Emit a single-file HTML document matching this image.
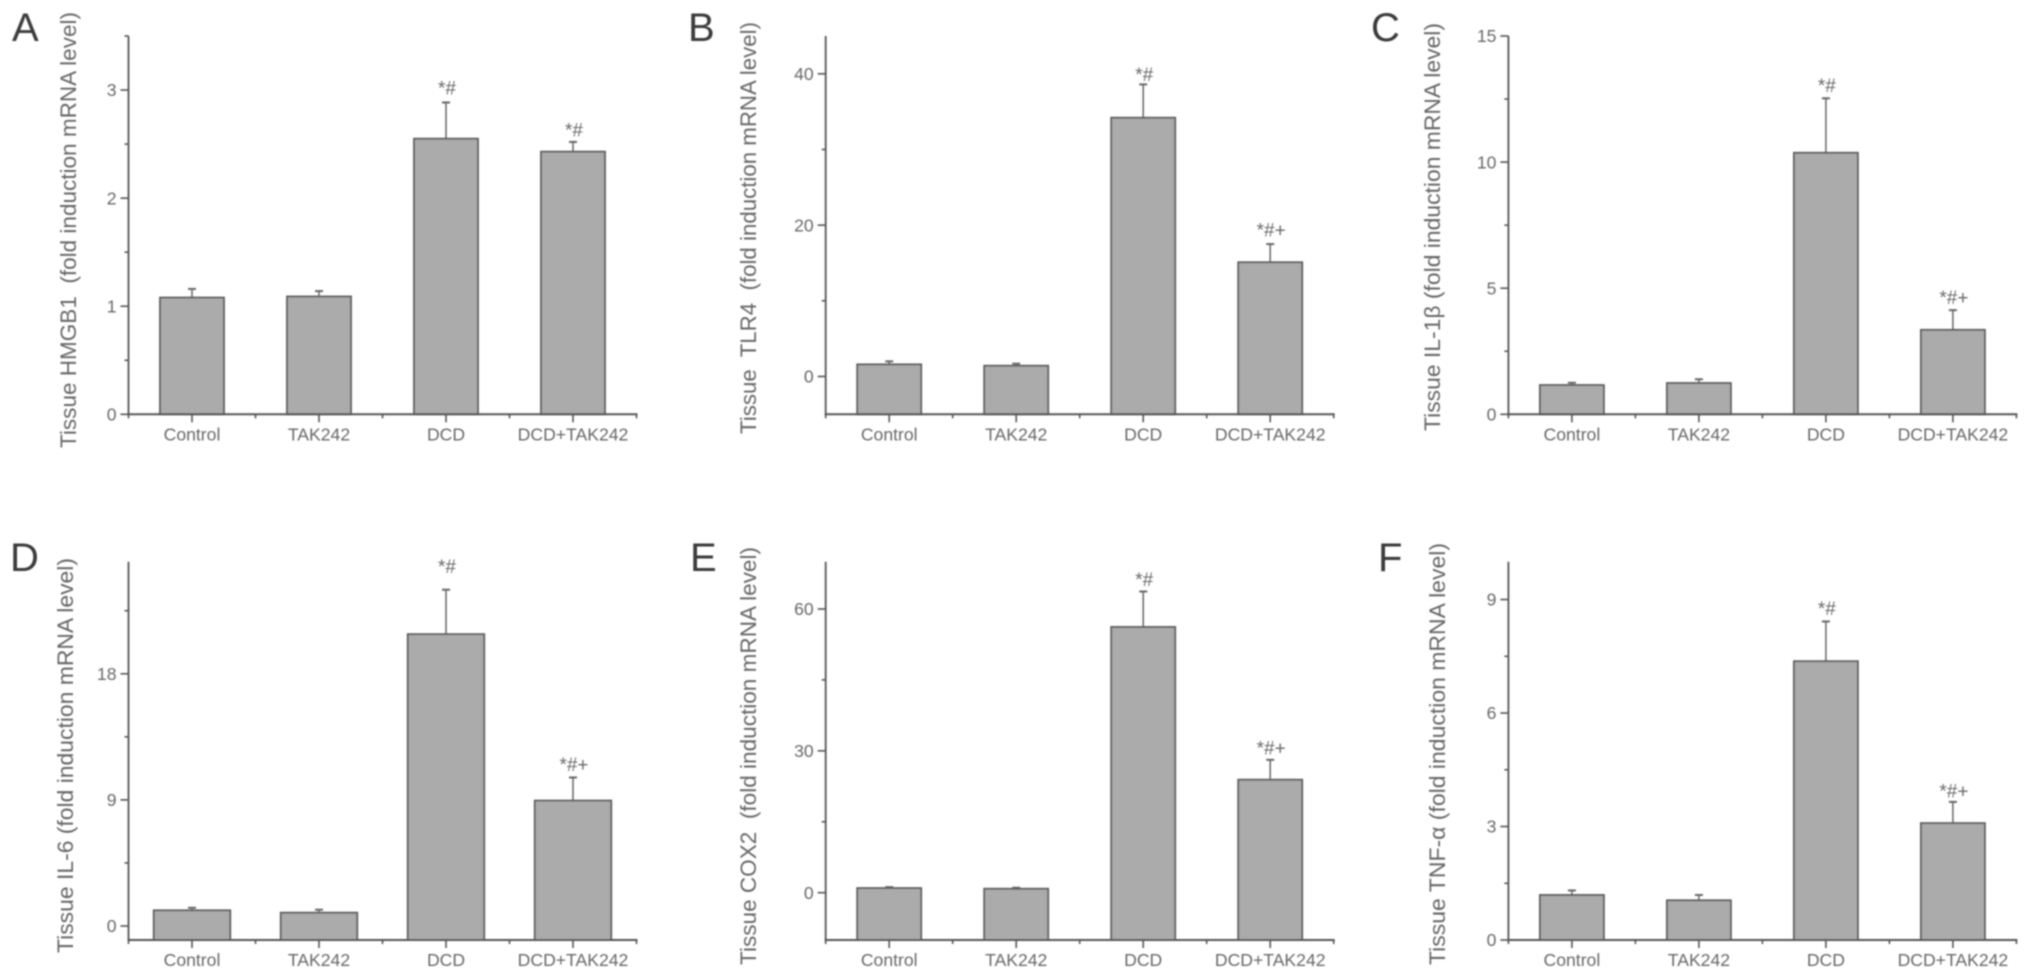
<!DOCTYPE html>
<html lang="en">
<head>
<meta charset="utf-8">
<title>Tissue mRNA induction bar charts</title>
<style>
html,body{margin:0;padding:0;background:#fff;width:2031px;height:980px;overflow:hidden}
svg{display:block}
text{font-family:"Liberation Sans",sans-serif;white-space:pre}
.letter{font-size:40px;fill:#3a3a3a}
.ytitle{font-size:22.5px;fill:#666666}
</style>
</head>
<body>
<svg id="figure" width="2031" height="980" viewBox="0 0 2031 980" xmlns="http://www.w3.org/2000/svg">
<defs>
<filter id="soft" x="0" y="0" width="100%" height="100%" filterUnits="userSpaceOnUse" primitiveUnits="userSpaceOnUse">
<feGaussianBlur stdDeviation="0.8"/>
</filter>
</defs>
<rect width="2031" height="980" fill="#ffffff"/>
<g id="root" filter="url(#soft)">
<g id="panel-a">
<text class="letter" x="12" y="41">A</text>
<text class="ytitle" transform="translate(76,448) rotate(-90)" textLength="436" lengthAdjust="spacingAndGlyphs">Tissue HMGB1  (fold induction mRNA level)</text>
</g>
<g id="panel-b">
<text class="letter" x="688" y="41">B</text>
<text class="ytitle" transform="translate(756,434) rotate(-90)" textLength="412" lengthAdjust="spacingAndGlyphs">Tissue  TLR4  (fold induction mRNA level)</text>
</g>
<g id="panel-c">
<text class="letter" x="1371" y="41">C</text>
<text class="ytitle" transform="translate(1440,431) rotate(-90)" textLength="408" lengthAdjust="spacingAndGlyphs">Tissue IL-1β (fold induction mRNA level)</text>
</g>
<g id="panel-d">
<text class="letter" x="10" y="571">D</text>
<text class="ytitle" transform="translate(73,953) rotate(-90)" textLength="395" lengthAdjust="spacingAndGlyphs">Tissue IL-6 (fold induction mRNA level)</text>
</g>
<g id="panel-e">
<text class="letter" x="690" y="571">E</text>
<text class="ytitle" transform="translate(756,965) rotate(-90)" textLength="418" lengthAdjust="spacingAndGlyphs">Tissue COX2  (fold induction mRNA level)</text>
</g>
<g id="panel-f">
<text class="letter" x="1378" y="571">F</text>
<text class="ytitle" transform="translate(1445,965) rotate(-90)" textLength="422" lengthAdjust="spacingAndGlyphs">Tissue TNF-α (fold induction mRNA level)</text>
</g>
</g>
</svg>
<script>
// ---- data ----
const categories = ['Control', 'TAK242', 'DCD', 'DCD+TAK242'];

const hmgb1Means = [1.08, 1.09, 2.55, 2.43];
const hmgb1Errors = [0.08, 0.05, 0.335, 0.09];
const hmgb1Notes = ['', '', '*#', '*#'];
const hmgb1MajorTicks = [0, 1, 2, 3];
const hmgb1MinorTicks = [0.5, 1.5, 2.5, 3.5];

const tlr4Means = [1.6, 1.42, 34.2, 15.1];
const tlr4Errors = [0.4, 0.27, 4.4, 2.4];
const tlr4Notes = ['', '', '*#', '*#+'];
const tlr4MajorTicks = [0, 20, 40];
const tlr4MinorTicks = [10, 30];

const il1bMeans = [1.16, 1.24, 10.37, 3.35];
const il1bErrors = [0.09, 0.15, 2.16, 0.78];
const il1bNotes = ['', '', '*#', '*#+'];
const il1bMajorTicks = [0, 5, 10, 15];
const il1bMinorTicks = [2.5, 7.5, 12.5];

const il6Means = [1.12, 0.95, 20.83, 8.95];
const il6Errors = [0.18, 0.21, 3.17, 1.65];
const il6Notes = ['', '', '*#', '*#+'];
const il6MajorTicks = [0, 9, 18];
const il6MinorTicks = [4.5, 13.5, 22.5];

const cox2Means = [0.98, 0.84, 56.2, 23.9];
const cox2Errors = [0.2, 0.21, 7.5, 4.2];
const cox2Notes = ['', '', '*#', '*#+'];
const cox2MajorTicks = [0, 30, 60];
const cox2MinorTicks = [15, 45];

const tnfaMeans = [1.19, 1.05, 7.37, 3.09];
const tnfaErrors = [0.12, 0.14, 1.05, 0.56];
const tnfaNotes = ['', '', '*#', '*#+'];
const tnfaMajorTicks = [0, 3, 6, 9];
const tnfaMinorTicks = [1.5, 4.5, 7.5];

// ---- layout ----
const panels = [
  {id:'a', left:128.5, right:636.5, top:36, bottom:414.3, yMin:0, yMax:3.5, barW:64, means:hmgb1Means, errors:hmgb1Errors, notes:hmgb1Notes, major:hmgb1MajorTicks, minor:hmgb1MinorTicks, noteGap:[0,0,8,5.5]},
  {id:'b', left:825.7, right:1333.7, top:36, bottom:414.3, yMin:-5, yMax:45, barW:64, means:tlr4Means, errors:tlr4Errors, notes:tlr4Notes, major:tlr4MajorTicks, minor:tlr4MinorTicks, noteGap:[0,0,3.5,7.5]},
  {id:'c', left:1508.4, right:2016.4, top:36, bottom:414.3, yMin:0, yMax:15, barW:64, means:il1bMeans, errors:il1bErrors, notes:il1bNotes, major:il1bMajorTicks, minor:il1bMinorTicks, noteGap:[0,0,6.5,6]},
  {id:'d', left:128.5, right:636.5, top:561.7, bottom:940, yMin:-1, yMax:26, barW:76.5, means:il6Means, errors:il6Errors, notes:il6Notes, major:il6MajorTicks, minor:il6MinorTicks, noteGap:[0,0,16.5,6.5]},
  {id:'e', left:825.7, right:1333.7, top:561.7, bottom:940, yMin:-10, yMax:70, barW:64, means:cox2Means, errors:cox2Errors, notes:cox2Notes, major:cox2MajorTicks, minor:cox2MinorTicks, noteGap:[0,0,5.5,5.2]},
  {id:'f', left:1508.4, right:2016.4, top:561.7, bottom:940, yMin:0, yMax:10, barW:64, means:tnfaMeans, errors:tnfaErrors, notes:tnfaNotes, major:tnfaMajorTicks, minor:tnfaMinorTicks, noteGap:[0,0,6.7,4.3]}
];

const NS = 'http://www.w3.org/2000/svg';
const AXIS = '#555555';
const INK = '#686868';

function make(parent, tag, attrs) {
  const node = document.createElementNS(NS, tag);
  for (const k in attrs) node.setAttribute(k, attrs[k]);
  parent.appendChild(node);
  return node;
}

panels.forEach(function (p) {
  const g = document.getElementById('panel-' + p.id);
  const y = function (v) { return p.bottom - (v - p.yMin) / (p.yMax - p.yMin) * (p.bottom - p.top); };
  const step = (p.right - p.left) / categories.length;
  const x = function (i) { return p.left + (i + 0.5) * step; };

  // error bars and bars
  categories.forEach(function (cat, i) {
    const key = cat.toLowerCase().replace('+', '-plus-');
    const cx = x(i);
    const hi = y(p.means[i] + p.errors[i]);

    let el = make(g, 'line', {x1:cx, x2:cx, y1:y(p.means[i]), y2:hi, stroke:'#666666', 'stroke-width':1.5});
    
    

    el = make(g, 'line', {x1:cx - 4, x2:cx + 4, y1:hi, y2:hi, stroke:'#666666', 'stroke-width':2});
    
    

    el = make(g, 'rect', {x:cx - p.barW / 2, y:y(p.means[i]), width:p.barW, height:p.bottom - y(p.means[i]), fill:'#ababab', stroke:'#5c5c5c', 'stroke-width':1.8});
    
    

    if (p.notes[i]) {
      el = make(g, 'text', {x:cx + 1, y:hi - p.noteGap[i], 'text-anchor':'middle', 'font-size':19, fill:INK});
      el.textContent = p.notes[i];
      
      
    }

    el = make(g, 'text', {x:cx, y:p.bottom + 26, 'text-anchor':'middle', 'font-size':17.6, fill:INK});
    el.textContent = cat;
    
    

    el = make(g, 'line', {x1:cx, x2:cx, y1:p.bottom, y2:p.bottom + 8, stroke:AXIS, 'stroke-width':1.6});
    
    
  });

  // x boundary minor ticks
  for (let i = 0; i <= categories.length; i++) {
    const bx = p.left + i * step;
    const el = make(g, 'line', {x1:bx, x2:bx, y1:p.bottom, y2:p.bottom + 4, stroke:AXIS, 'stroke-width':1.6});
    
    
  }

  // axis lines
  let axis = make(g, 'line', {x1:p.left, x2:p.left, y1:p.top, y2:p.bottom + 1, stroke:AXIS, 'stroke-width':1.8});
  
  

  axis = make(g, 'line', {x1:p.left - 1, x2:p.right + 1, y1:p.bottom, y2:p.bottom, stroke:AXIS, 'stroke-width':2});
  
  

  // y ticks
  p.major.forEach(function (v) {
    let el = make(g, 'line', {x1:p.left - 8, x2:p.left, y1:y(v), y2:y(v), stroke:AXIS, 'stroke-width':1.6});
    
    

    el = make(g, 'text', {x:p.left - 12, y:y(v) + 6.2, 'text-anchor':'end', 'font-size':17.6, fill:INK});
    el.textContent = String(v);
    
    
  });
  p.minor.forEach(function (v) {
    const el = make(g, 'line', {x1:p.left - 4, x2:p.left, y1:y(v), y2:y(v), stroke:AXIS, 'stroke-width':1.6});
    
    
  });
});
</script>
</body>
</html>
